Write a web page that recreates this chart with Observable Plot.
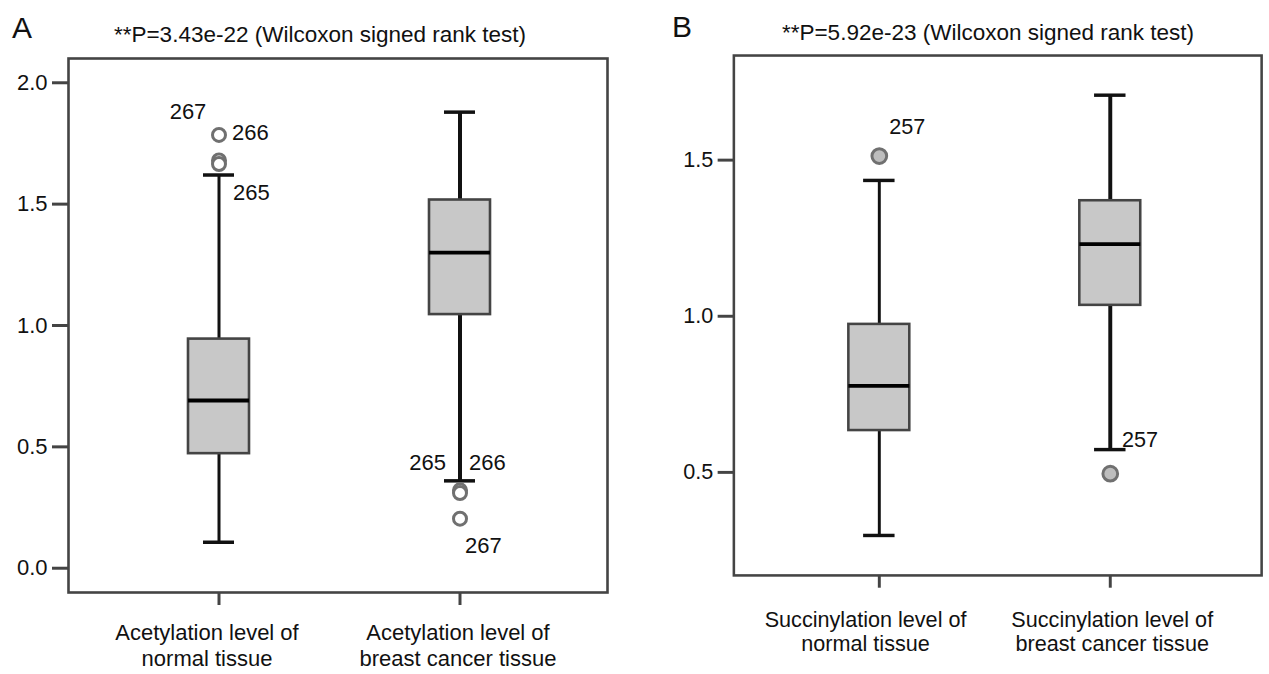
<!DOCTYPE html>
<html><head><meta charset="utf-8">
<script src="https://cdn.jsdelivr.net/npm/d3@7"></script>
<script src="https://cdn.jsdelivr.net/npm/@observablehq/plot@0.6"></script>
<style>
html,body{margin:0;padding:0;background:#fff;overflow:hidden;}
#root{position:relative;width:1269px;height:674px;overflow:hidden;font-family:"Liberation Sans",Arial,sans-serif;color:#111;}
.panel{position:absolute;top:0;}
.letter{position:absolute;font-size:30px;line-height:1;}
.title{position:absolute;font-size:22.5px;white-space:nowrap;transform:translateX(-50%);line-height:1;}
</style></head><body><div id="root"></div>
<script>
// ---------- data ----------
const acetylCategories = ["Acetylation level of\nnormal tissue", "Acetylation level of\nbreast cancer tissue"];
const acetylQ1 = [0.472, 1.045];
const acetylMedian = [0.691, 1.300];
const acetylQ3 = [0.944, 1.517];
const acetylWhiskerLow = [0.107, 0.360];
const acetylWhiskerHigh = [1.620, 1.879];
const acetylOutlierGroup = [0, 0, 0, 1, 1, 1];
const acetylOutlierValue = [1.785, 1.680, 1.665, 0.321, 0.310, 0.204];
const acetylLabelGroup = [0, 0, 0, 1, 1, 1];
const acetylLabelValue = [1.785, 1.785, 1.665, 0.321, 0.321, 0.204];
const acetylLabelText = ["267", "266", "265", "265", "266", "267"];
const acetylTicks = [0, 0.5, 1.0, 1.5, 2.0];
const acetylTitle = "**P=3.43e-22 (Wilcoxon signed rank test)";

const succinylCategories = ["Succinylation level of\nnormal tissue", "Succinylation level of\nbreast cancer tissue"];
const succinylQ1 = [0.634, 1.035];
const succinylMedian = [0.777, 1.231];
const succinylQ3 = [0.974, 1.370];
const succinylWhiskerLow = [0.298, 0.573];
const succinylWhiskerHigh = [1.435, 1.708];
const succinylOutlierGroup = [0, 1];
const succinylOutlierValue = [1.513, 0.496];
const succinylLabelGroup = [0, 1];
const succinylLabelValue = [1.513, 0.496];
const succinylLabelText = ["257", "257"];
const succinylTicks = [0.5, 1.0, 1.5];
const succinylTitle = "**P=5.92e-23 (Wilcoxon signed rank test)";

// ---------- drawing ----------
const FONT = '"Liberation Sans", Arial, sans-serif';
const TXT = "#111";

function boxPanel(cfg) {
  const cats = cfg.categories;
  const rows = cats.map((c, i) => ({cat: c, q1: cfg.q1[i], med: cfg.med[i], q3: cfg.q3[i], lo: cfg.lo[i], hi: cfg.hi[i]}));
  const outs = cfg.outGroup.map((g, i) => ({cat: cats[g], v: cfg.outValue[i]}));
  const labels = cfg.labelGroup.map((g, i) => ({cat: cats[g], v: cfg.labelValue[i], t: cfg.labelText[i]}));
  const labelMarks = labels.map((d, i) => Plot.text([d], {
    x: "cat", y: "v", text: "t",
    dx: cfg.labelPlace[i][0], dy: cfg.labelPlace[i][1], textAnchor: cfg.labelPlace[i][2],
    fontSize: 22, fill: TXT, fontFamily: FONT
  }));
  const catMarks = cats.map((c, i) => Plot.text([c], {
    x: d => d, text: d => d, frameAnchor: "bottom", lineAnchor: "top",
    dx: cfg.catDx[i], dy: cfg.catDy, lineHeight: 1.15, fontSize: 22, fill: TXT, fontFamily: FONT
  }));
  return Plot.plot({
    width: cfg.width, height: 674,
    marginLeft: cfg.ml, marginRight: cfg.mr, marginTop: cfg.mt, marginBottom: cfg.mb,
    style: {fontFamily: FONT, fontSize: "22px", color: TXT, background: "transparent", overflow: "visible"},
    x: {type: "band", domain: cats, range: cfg.xRange, paddingInner: cfg.padInner, paddingOuter: 0.5, align: 0.5, label: null},
    y: {domain: cfg.yDomain, label: null},
    marks: [
      Plot.frame({stroke: "#444", strokeWidth: 2.6}),
      Plot.axisY({ticks: cfg.ticks, tickFormat: d3.format(".1f"), tickSize: 16, tickPadding: 5, stroke: "#444", strokeWidth: 3, fontSize: 22, label: null}),
      Plot.axisX({tickSize: 13, tickFormat: () => "", stroke: "#444", strokeWidth: 3, label: null}),
      ...catMarks,
      Plot.ruleX(rows.slice(0, 1), {x: "cat", y1: "lo", y2: "hi", stroke: "#111", strokeWidth: 3}),
      Plot.ruleX(rows.slice(1), {x: "cat", y1: "lo", y2: "hi", stroke: "#111", strokeWidth: 4}),
      Plot.tickY(rows, {x: "cat", y: "lo", insetLeft: 15, insetRight: 15, stroke: "#111", strokeWidth: 3.5}),
      Plot.tickY(rows, {x: "cat", y: "hi", insetLeft: 15, insetRight: 15, stroke: "#111", strokeWidth: 3.5}),
      Plot.barY(rows, {x: "cat", y1: "q1", y2: "q3", fill: "#c8c8c8", stroke: "#444", strokeWidth: 2.6}),
      Plot.tickY(rows, {x: "cat", y: "med", stroke: "#000", strokeWidth: 3.8}),
      Plot.dot(outs, {x: "cat", y: "v", r: cfg.dotR, fill: cfg.dotFill, stroke: "#707070", strokeWidth: 3}),
      ...labelMarks
    ]
  });
}

const root = document.getElementById("root");

const svgA = boxPanel({
  categories: acetylCategories, q1: acetylQ1, med: acetylMedian, q3: acetylQ3, lo: acetylWhiskerLow, hi: acetylWhiskerHigh,
  outGroup: acetylOutlierGroup, outValue: acetylOutlierValue,
  labelGroup: acetylLabelGroup, labelValue: acetylLabelValue, labelText: acetylLabelText,
  labelPlace: [[-31, -23, "middle"], [13, -2, "start"], [14, 29, "start"], [-14, -27, "end"], [9, -27, "start"], [5, 27, "start"]],
  ticks: acetylTicks, yDomain: [-0.1, 2.1],
  width: 640, ml: 68, mr: 33, mt: 58, mb: 82,
  xRange: [67, 610], padInner: 0.747, dotR: 6.5, dotFill: "#fff",
  catDx: [-12, -2], catDy: 30
});
const wrapA = document.createElement("div"); wrapA.className = "panel"; wrapA.style.left = "0px"; wrapA.appendChild(svgA); root.appendChild(wrapA);

const svgB = boxPanel({
  categories: succinylCategories, q1: succinylQ1, med: succinylMedian, q3: succinylQ3, lo: succinylWhiskerLow, hi: succinylWhiskerHigh,
  outGroup: succinylOutlierGroup, outValue: succinylOutlierValue,
  labelGroup: succinylLabelGroup, labelValue: succinylLabelValue, labelText: succinylLabelText,
  labelPlace: [[10, -30, "start"], [12, -34, "start"]],
  ticks: succinylTicks, yDomain: [0.17, 1.835],
  width: 640, ml: 95, mr: 8, mt: 56, mb: 89,
  xRange: [94.3, 627.2], padInner: 0.737, dotR: 7.5, dotFill: "#bdbdbd",
  catDx: [-14, 2], catDy: 34
});
const wrapB = document.createElement("div"); wrapB.className = "panel"; wrapB.style.left = "640px"; wrapB.appendChild(svgB); root.appendChild(wrapB);

function addText(cls, txt, left, top) {
  const d = document.createElement("div"); d.className = cls; d.textContent = txt;
  d.style.left = left + "px"; d.style.top = top + "px"; root.appendChild(d);
}
addText("letter", "A", 12, 13);
addText("letter", "B", 672, 12);
addText("title", acetylTitle, 320, 24);
addText("title", succinylTitle, 988, 22);
</script></body></html>
